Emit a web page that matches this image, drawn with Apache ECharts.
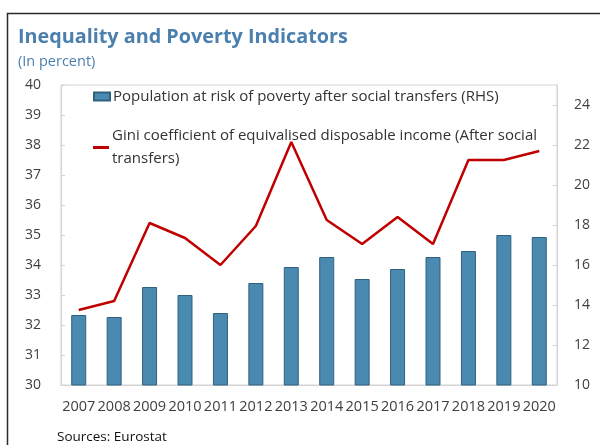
<!DOCTYPE html>
<html>
<head>
<meta charset="utf-8">
<script src="https://cdn.jsdelivr.net/npm/echarts@6/dist/echarts.min.js"></script>
<style>
  html, body { margin: 0; padding: 0; background: #fff; }
  #chart { width: 600px; height: 445px; }
</style>
</head>
<body>
<div id="chart"></div>
<script>
// Years on the category axis
const years = ['2007', '2008', '2009', '2010', '2011', '2012', '2013',
               '2014', '2015', '2016', '2017', '2018', '2019', '2020'];

// Population at risk of poverty after social transfers, % (right axis)
const povertyRisk = [13.5, 13.4, 14.9, 14.5, 13.6, 15.1, 15.9,
                     16.4, 15.3, 15.8, 16.4, 16.7, 17.5, 17.4];

// Gini coefficient of equivalised disposable income, % (left axis)
const gini = [32.5, 32.8, 35.4, 34.9, 34.0, 35.3, 38.1,
              35.5, 34.7, 35.6, 34.7, 37.5, 37.5, 37.8];

const barName = 'Population at risk of poverty after social transfers (RHS)';
const lineName = 'Gini coefficient of equivalised disposable income (After social transfers)';

const FONT = '"Open Sans", "Noto Sans", sans-serif';
const GRID_GRAY = '#d4d4d4';
const LABEL_COLOR = '#404040';

const chart = echarts.init(document.getElementById('chart'), null, { renderer: 'canvas' });

chart.setOption({
  animation: false,
  textStyle: { fontFamily: FONT },
  title: [
    {
      text: 'Inequality and Poverty Indicators',
      left: 18, top: 27, padding: 0,
      textStyle: { fontFamily: FONT, fontSize: 19.8, fontWeight: 'bold', color: '#4b7fae' }
    },
    {
      text: '(In percent)',
      left: 18, top: 54, padding: 0,
      textStyle: { fontFamily: FONT, fontSize: 14.5, fontWeight: 'normal', color: '#4b7fae' }
    },
    {
      text: 'Sources: Eurostat',
      left: 57, top: 430, padding: 0,
      textStyle: { fontFamily: FONT, fontSize: 13.5, fontWeight: 'normal', color: '#111' }
    }
  ],
  graphic: [
    {
      type: 'rect',
      shape: { x: 7.5, y: 13.5, width: 700, height: 500 },
      style: { fill: 'none', stroke: '#2a2a2a', lineWidth: 1.5 },
      silent: true
    }
  ],
  legend: [
    {
      data: [{ name: barName, icon: 'rect' }],
      left: 93, top: 89, padding: 0,
      itemWidth: 16, itemHeight: 8,
      textStyle: { fontFamily: FONT, fontSize: 15, color: '#333', padding: [0, 0, 0, -2] }
    },
    {
      data: [{ name: lineName, icon: 'rect' }],
      left: 93, top: 113, padding: 0,
      itemWidth: 16, itemHeight: 3,
      formatter: function () {
        return 'Gini coefficient of equivalised disposable income (After social\ntransfers)';
      },
      textStyle: { fontFamily: FONT, fontSize: 15, color: '#333', lineHeight: 23, padding: [23, 0, 0, -2] }
    }
  ],
  grid: {
    left: 61, right: 43, top: 85, bottom: 60,
    show: true, borderColor: GRID_GRAY, borderWidth: 1, backgroundColor: 'transparent'
  },
  xAxis: {
    type: 'category',
    data: years,
    boundaryGap: true,
    axisLine: { lineStyle: { color: GRID_GRAY } },
    axisTick: { inside: true, length: 5, alignWithLabel: false, lineStyle: { color: GRID_GRAY } },
    axisLabel: { interval: 0, margin: 14, fontFamily: FONT, fontSize: 14.5, color: LABEL_COLOR },
    splitLine: { show: false }
  },
  yAxis: [
    {
      type: 'value',
      position: 'left',
      min: 30, max: 40, interval: 1,
      axisLine: { show: true, lineStyle: { color: GRID_GRAY } },
      axisTick: { show: true, inside: true, length: 4, lineStyle: { color: GRID_GRAY } },
      axisLabel: { margin: 20, fontFamily: FONT, fontSize: 14, color: LABEL_COLOR },
      splitLine: { show: false }
    },
    {
      type: 'value',
      position: 'right',
      min: 10, max: 25, interval: 2,
      axisLine: { show: true, lineStyle: { color: GRID_GRAY } },
      axisTick: { show: true, inside: true, length: 4, lineStyle: { color: GRID_GRAY } },
      axisLabel: { margin: 17, showMaxLabel: false, fontFamily: FONT, fontSize: 14, color: LABEL_COLOR },
      splitLine: { show: false }
    }
  ],
  series: [
    {
      name: barName,
      type: 'bar',
      yAxisIndex: 1,
      data: povertyRisk,
      barWidth: 15,
      itemStyle: { color: '#4a8ab1', borderColor: '#30617f', borderWidth: 1 }
    },
    {
      name: lineName,
      type: 'line',
      yAxisIndex: 0,
      data: gini,
      symbol: 'none',
      lineStyle: { color: '#c00000', width: 2.5 },
      itemStyle: { color: '#c00000' },
      z: 3
    }
  ]
});
</script>
</body>
</html>
